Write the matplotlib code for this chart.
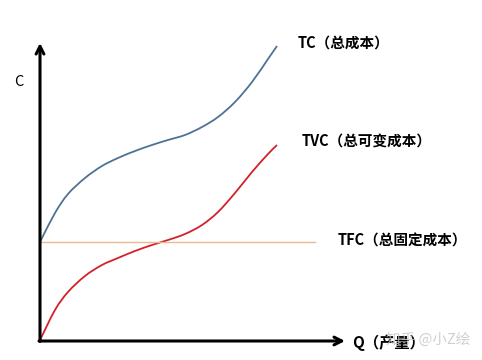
import matplotlib

matplotlib.use("Agg")
import matplotlib.pyplot as plt
import numpy as np
from matplotlib.path import Path
from matplotlib.patches import PathPatch

plt.rcParams["font.family"] = ["Noto Sans CJK SC", "DejaVu Sans"]

# output Q and cost levels (origin at the axes corner)
quantity = [0, 15, 28, 45, 62, 78, 95, 112, 128, 145, 162, 178, 195, 212, 228, 237]
tvc = [0, 30, 48, 64, 75, 82, 89, 95, 100, 106, 115, 128, 147, 168, 186, 195]
tc = [98, 127, 146, 162, 174, 182, 189, 195, 200, 205, 213, 223, 238, 258, 281, 294]
tfc = 98
tfc_end = 275

labels = {
    "tc": "TC（总成本）",
    "tvc": "TVC（总可变成本）",
    "tfc": "TFC（总固定成本）",
    "q": "Q（产量）",
    "c": "C",
}


def smooth_path(xs, ys):
    """Catmull-Rom through the points, drawn as cubic Bezier segments."""
    pts = np.column_stack([xs, ys]).astype(float)
    ext = np.vstack([2 * pts[0] - pts[1], pts, 2 * pts[-1] - pts[-2]])
    verts = [pts[0]]
    codes = [Path.MOVETO]
    for i in range(1, len(ext) - 2):
        p0, p1, p2, p3 = ext[i - 1], ext[i], ext[i + 1], ext[i + 2]
        verts += [p1 + (p2 - p0) / 6, p2 - (p3 - p1) / 6, p2]
        codes += [Path.CURVE4] * 3
    return Path(verts, codes)


fig = plt.figure(figsize=(4.82, 3.6), dpi=100)
ax = fig.add_axes([0, 0, 1, 1])
ax.set_xlim(-40, 442)
ax.set_ylim(-20, 340)
ax.axis("off")

ax.plot([0, tfc_end], [tfc, tfc], color="#ebb98f", lw=1.0)
ax.add_patch(PathPatch(smooth_path(quantity, tc), fill=False,
                       edgecolor="#4e7295", lw=1.3))
ax.add_patch(PathPatch(smooth_path(quantity, tvc), fill=False,
                       edgecolor="#d42028", lw=1.3))

# axes with arrow heads
arrow = dict(arrowstyle="->,head_length=0.55,head_width=0.28", lw=2.2, color="black",
             shrinkA=0, shrinkB=0)
ax.annotate("", xy=(0, 297), xytext=(0, -1.5), arrowprops=arrow)
ax.annotate("", xy=(305, -1), xytext=(-1, -1), arrowprops=arrow)

ax.text(-26, 258, labels["c"], fontsize=10.5, ha="left", va="center")
ax.text(258, 297, labels["tc"], fontsize=10.5, weight="bold", ha="left", va="center")
ax.text(262, 198, labels["tvc"], fontsize=10.5, weight="bold", ha="left", va="center")
ax.text(298, 99, labels["tfc"], fontsize=10.5, weight="bold", ha="left", va="center")
ax.text(312, -3, labels["q"], fontsize=11, weight="bold", ha="left", va="center")
ax.text(346, 0, "知乎 @小Z绘", fontsize=10.5, color="#c4c4c4", ha="left", va="center",
        alpha=0.8)

fig.savefig("out.png", dpi=100)
